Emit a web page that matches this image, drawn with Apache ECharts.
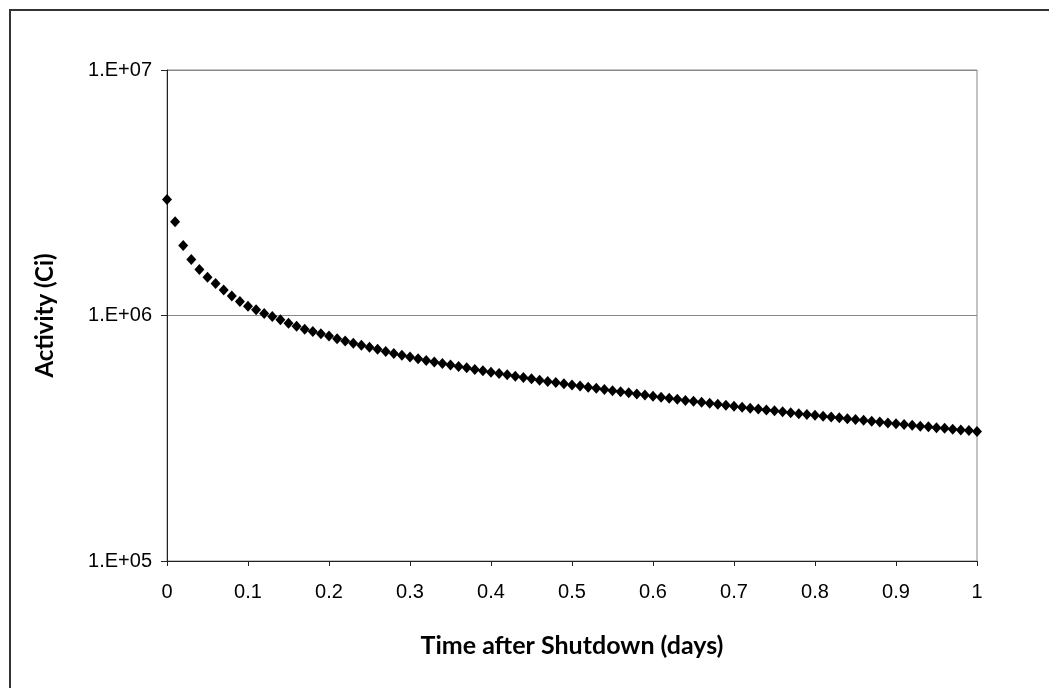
<!DOCTYPE html>
<html>
<head>
<meta charset="utf-8">
<script src="https://cdn.jsdelivr.net/npm/echarts@6/dist/echarts.min.js"></script>
<style>
html,body{margin:0;padding:0;background:#fff;}
#c{width:1049px;height:688px;}
</style>
</head>
<body>
<div id="c"></div>
<script>
const times = [0.00,0.01,0.02,0.03,0.04,0.05,0.06,0.07,0.08,0.09,
0.10,0.11,0.12,0.13,0.14,0.15,0.16,0.17,0.18,0.19,
0.20,0.21,0.22,0.23,0.24,0.25,0.26,0.27,0.28,0.29,
0.30,0.31,0.32,0.33,0.34,0.35,0.36,0.37,0.38,0.39,
0.40,0.41,0.42,0.43,0.44,0.45,0.46,0.47,0.48,0.49,
0.50,0.51,0.52,0.53,0.54,0.55,0.56,0.57,0.58,0.59,
0.60,0.61,0.62,0.63,0.64,0.65,0.66,0.67,0.68,0.69,
0.70,0.71,0.72,0.73,0.74,0.75,0.76,0.77,0.78,0.79,
0.80,0.81,0.82,0.83,0.84,0.85,0.86,0.87,0.88,0.89,
0.90,0.91,0.92,0.93,0.94,0.95,0.96,0.97,0.98,0.99,1.00];
const activity = [2970000,2410000,1930000,1690000,1540000,1430000,1350000,1270000,1200000,1140000,
1090000,1055000,1020000,990000,960000,930000,905000,880000,860000,843000,
825000,805000,788000,771000,756000,742000,728000,714000,700000,689000,
677000,666000,656000,647000,638000,629000,620000,612000,603000,595000,
587000,580000,573000,566000,559000,552000,545000,539000,533000,527000,
521000,516000,510000,505000,500000,494000,489000,484000,479000,474000,
469000,465000,460000,456000,451000,447000,443000,439000,435000,431000,
427000,423000,419000,416000,412000,409000,405000,402000,398000,395000,
392000,389000,386000,383000,380000,377000,374000,371000,368000,365000,
362000,360000,357000,354000,352000,349000,347000,344000,342000,340000,337000];
const xTitle = 'Time after Shutdown (days)';
const yTitle = 'Activity (Ci)';

const chart = echarts.init(document.getElementById('c'), null, {renderer:'canvas'});
chart.setOption({
  animation:false,
  backgroundColor:'#fff',
  graphic:[{
    type:'rect', z:-1, silent:true,
    shape:{x:10, y:10, width:1200, height:900},
    style:{fill:'none', stroke:'#333', lineWidth:2}
  }],
  grid:{left:167, right:72, top:70, bottom:127, show:true, borderColor:'#888', borderWidth:1, backgroundColor:'transparent'},
  xAxis:{
    type:'value', min:0, max:1, interval:0.1,
    name:xTitle, nameLocation:'middle', nameGap:72,
    nameTextStyle:{fontFamily:'Lato', fontWeight:'bold', fontSize:25, color:'#000'},
    axisLine:{show:true, lineStyle:{color:'#222', width:1}},
    axisTick:{show:true, inside:false, length:5, lineStyle:{color:'#222'}},
    axisLabel:{fontFamily:'Liberation Sans', fontSize:20, color:'#000', margin:21,
      formatter:v=>String(Number(v.toFixed(1)))},
    splitLine:{show:false}
  },
  yAxis:{
    type:'log', logBase:10, min:100000, max:10000000,
    name:yTitle, nameLocation:'middle', nameGap:110, nameRotate:90,
    nameTextStyle:{fontFamily:'Lato', fontWeight:'bold', fontSize:24, color:'#000'},
    axisLine:{show:true, lineStyle:{color:'#222', width:1}},
    axisTick:{show:true, inside:false, length:6, lineStyle:{color:'#222'}},
    minorTick:{show:false},
    axisLabel:{fontFamily:'Liberation Sans', fontSize:20, color:'#000', margin:15,
      formatter:v=>'1.E+'+String(Math.round(Math.log10(v))).padStart(2,'0')},
    splitLine:{show:true, lineStyle:{color:'#888', width:1}}
  },
  series:[{
    type:'scatter',
    data:times.map((t,i)=>[t,activity[i]]),
    symbol:'diamond',
    symbolSize:[10,11],
    itemStyle:{color:'#000', opacity:1},
    clip:false
  }]
});
</script>
</body>
</html>
